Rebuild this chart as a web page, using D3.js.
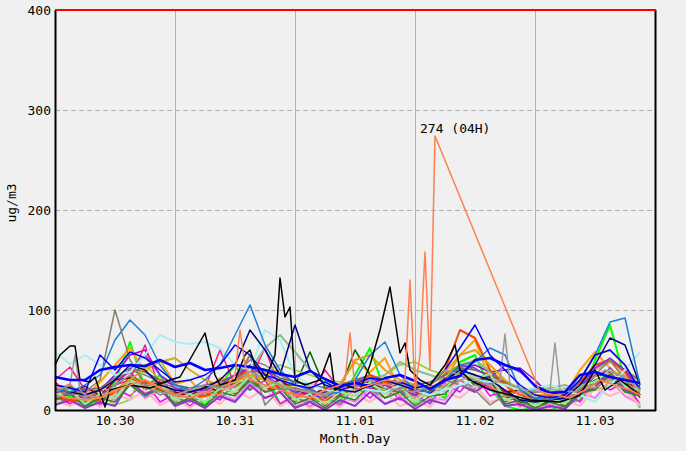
<!DOCTYPE html>
<html>
<head>
<script src="https://d3js.org/d3.v7.min.js"></script>
<style>
  body { margin: 0; background: #f0f0f0; }
  text { font-family: "DejaVu Sans Mono", monospace; font-size: 13px; fill: #000; }
</style>
</head>
<body>
<script>
// hours since 10.30 00:00, one sample every 3 hours
var hours = [0,3,6,9,12,15,18,21,24,27,30,33,36,39,42,45,48,51,54,57,60,63,66,69,72,75,78,81,84,87,90,93,96,99,102,105,108,111,114,117];
var dayLabels = ["10.30","10.31","11.01","11.02","11.03"];
var yTicks = [0,100,200,300,400];

// background stations
var red = [28,15,24,12,30,38,22,25,10,16,18,28,24,42,20,25,12,18,10,24,30,20,32,14,22,12,36,45,30,28,12,14,4,10,6,24,38,30,40,12];
var lime = [5,14,3,10,28,68,22,35,8,18,5,24,45,20,38,6,12,2,18,8,35,62,18,28,6,20,12,48,55,22,4,0,2,0,6,10,50,85,30,2];
var orange = [8,22,12,28,45,62,38,50,26,30,14,32,28,55,36,40,10,20,6,26,48,38,52,20,24,12,38,55,70,30,26,4,10,2,16,40,58,42,30,4];
var purple = [20,18,15,20,35,55,60,35,25,20,15,22,30,45,40,28,20,15,18,22,30,28,25,20,18,20,28,40,45,38,40,42,30,15,12,20,40,50,38,22];
var magenta = [15,6,18,5,22,14,28,8,16,4,18,10,28,20,30,6,15,3,12,4,24,12,26,10,16,6,26,18,35,14,20,4,12,2,18,8,30,20,28,6];
var violet = [10,18,6,16,10,26,12,20,6,12,2,16,10,28,12,18,3,10,2,14,8,22,6,14,2,12,10,30,20,26,4,10,0,6,2,18,12,30,14,6];
var gray = [22,20,18,20,30,40,35,28,22,20,22,25,35,50,45,35,28,25,22,25,30,32,28,25,22,25,35,45,40,35,25,15,12,14,15,25,42,50,40,28];
var dkgreen = [12,10,8,10,20,30,25,18,15,12,15,20,28,35,30,25,25,58,22,20,60,35,25,20,15,20,30,40,35,25,15,8,6,8,10,20,30,35,28,15];
var sienna = [18,24,10,20,14,34,20,26,10,18,8,24,16,32,18,26,8,18,4,20,14,28,12,24,8,22,18,38,24,30,8,14,2,12,4,22,20,36,18,22];
var deeppink = [30,43,20,15,25,30,65,20,15,18,22,60,25,30,62,20,15,18,40,20,25,22,20,18,15,18,25,35,30,22,15,10,12,15,18,22,35,40,28,18];
var yellowgreen = [25,22,20,15,5,10,45,30,25,22,20,25,30,35,38,45,40,35,30,28,25,30,35,45,48,40,35,45,50,40,28,20,18,20,22,15,20,25,22,18];
var seagreen = [18,15,12,15,20,25,30,22,18,15,18,20,25,40,62,75,58,40,30,25,28,30,35,48,40,35,30,40,50,38,28,22,20,22,25,20,25,30,28,25];
var cadet = [15,8,14,6,20,25,16,22,12,8,16,12,24,28,18,22,12,8,14,6,22,20,12,18,10,8,24,30,22,26,10,14,6,12,8,14,30,32,20,18];
var olive = [20,24,12,22,24,35,26,30,16,22,16,26,24,32,22,28,16,22,12,22,20,25,18,24,14,24,24,35,28,32,16,18,8,14,10,26,26,35,24,24];
var darkred = [22,16,24,14,30,32,22,28,18,14,24,18,30,35,24,30,20,14,22,16,28,28,20,26,18,16,32,38,28,34,18,20,10,14,10,18,34,38,26,24];
var lightpink = [10,4,12,3,16,10,20,5,12,2,14,6,20,12,22,4,12,2,10,3,16,8,18,4,10,3,18,12,24,8,12,2,6,1,10,4,22,14,20,4];
var orchid = [5,10,2,8,4,28,16,22,4,10,2,14,8,25,12,18,2,8,0,10,4,18,6,12,1,10,6,25,18,28,4,6,0,4,1,16,22,42,20,14];
var dimgray = [25,22,20,22,32,42,38,30,25,22,25,28,35,45,40,32,28,25,22,25,30,35,30,28,25,28,35,42,40,35,28,20,18,18,20,28,40,48,40,30];
var tan = [15,12,10,12,20,28,25,18,15,12,14,18,25,38,30,20,15,12,10,12,20,25,20,15,12,15,25,35,32,25,15,10,8,10,12,20,40,48,35,18];
var orangered = [12,10,8,10,18,30,28,20,15,12,14,18,30,42,35,20,15,12,10,14,25,35,28,20,15,25,40,80,72,40,25,15,10,12,15,28,45,50,38,15];
var blueviolet = [18,15,12,15,25,40,55,35,22,18,20,25,35,42,35,25,18,15,12,15,28,32,25,20,15,18,30,45,42,32,45,38,25,12,10,20,42,52,40,22];
var forest = [10,16,4,12,8,25,14,22,6,12,4,18,14,30,18,22,6,12,2,14,10,25,12,18,4,14,16,35,26,30,6,10,2,8,3,18,20,35,18,14];
var lightcoral = [20,26,12,22,18,30,24,30,14,22,16,28,22,32,24,28,14,24,10,22,18,25,26,22,12,24,20,30,34,24,14,18,8,16,10,24,22,32,34,18];
var lightgreen = [15,20,6,16,12,30,22,26,10,16,8,22,18,35,22,28,10,16,6,18,14,28,16,24,8,22,20,40,32,36,10,14,4,12,6,24,28,40,24,20];

// stations that stand out
var goldenrod = [20,18,15,12,20,30,42,48,52,40,30,25,28,35,30,25,22,18,15,25,50,55,40,30,25,22,30,55,60,45,30,20,15,15,18,30,55,60,45,20];
var taupe = [20,15,18,30,100,50,25,15,20,18,22,25,30,55,5,20,22,18,15,20,25,20,18,22,25,20,30,25,20,5,15,10,12,15,10,20,35,50,30,15];
var cyan = [58,46,55,45,35,38,55,75,68,66,68,62,45,40,80,70,35,25,20,18,22,20,18,25,20,15,20,25,30,28,25,20,22,25,20,15,8,25,40,58];
var navy = [20,18,15,20,30,45,40,25,20,18,22,30,45,80,60,35,85,40,25,20,18,25,30,25,20,18,30,40,35,30,20,10,8,10,12,25,45,72,65,25];
var steel = [20,18,25,35,70,90,75,45,25,20,30,45,75,105,65,40,25,20,15,18,30,55,68,35,20,18,30,45,48,62,55,20,12,10,15,30,55,88,92,25];
var blue2 = [25,22,18,55,40,58,52,40,28,30,35,45,65,55,35,30,25,22,28,20,25,32,30,28,22,25,40,62,85,55,40,25,15,12,15,30,55,60,45,20];
var blueThick = [33,30,30,40,43,45,44,50,43,47,40,42,45,43,40,36,33,39,31,24,27,24,32,35,29,21,30,34,50,52,45,40,24,17,18,35,38,33,30,27];

// stations with their own sample hours
var grayHours = [0,3,4,5,6,9,12,15,18,21,24,27,30,33,36,39,42,45,48,51,54,57,60,63,66,69,72,75,78,81,84,87,89,90,91,94,97,99,100,101,104,107,110,113,116,117];
var grayVals = [18,25,55,20,15,12,25,35,22,18,15,20,25,22,30,38,32,25,20,18,15,22,25,30,22,20,18,25,40,35,30,25,30,76,25,20,18,20,67,20,18,30,40,35,25,20];
var blackHours = [0,1,3,4,5,7,8,10,11,15,19,23,25,30,32,33,36,38,39,40,42,44,45,46,47,48,50,53,55,56,58,61,63,65,67,69,70,71,73,75,78,80,81,83,87,91,95,101,105,108,110,113,117];
var blackVals = [45,55,64,64,30,28,33,3,20,25,22,30,33,77,35,25,30,55,60,45,30,55,132,93,103,30,25,30,57,20,25,20,45,80,123,57,67,40,30,25,45,65,40,30,20,15,10,8,15,40,20,30,15];
var coralHours = [0,3,6,9,12,15,18,21,24,27,30,33,36,37,38,39,42,45,48,51,54,57,58,59,60,63,66,69,70,71,72,73,74,75,76,97,100,103,106,109,112,115,117];
var coralVals = [15,12,10,12,20,25,30,22,15,12,18,15,35,80,45,30,25,20,15,12,20,25,30,77,20,25,30,28,30,130,20,55,158,40,274,18,15,12,20,30,25,20,15];

var w = 686, h = 451;
var padL = 55, padR = 655, padT = 10, padB = 410;

var xScale = d3.scaleLinear().domain([0, 120]).range([padL, padR]);
var yScale = d3.scaleLinear().domain([0, 400]).range([padB, padT]);

var svg = d3.select("body").append("svg").attr("width", w).attr("height", h);
svg.append("rect").attr("width", w).attr("height", h).attr("fill", "#f0f0f0");

// grid
svg.selectAll(".hgrid").data([100,200,300]).enter().append("line")
    .attr("x1", padL).attr("x2", padR)
    .attr("y1", function(d){return yScale(d) + 0.5;}).attr("y2", function(d){return yScale(d) + 0.5;})
    .attr("stroke", "#b0b0b0").attr("stroke-dasharray", "5,3");
svg.selectAll(".vgrid").data([24,48,72,96]).enter().append("line")
    .attr("x1", function(d){return xScale(d) + 0.5;}).attr("x2", function(d){return xScale(d) + 0.5;})
    .attr("y1", padT).attr("y2", padB)
    .attr("stroke", "#b0b0b0");

var styles = [
  [red, "#ff0000", 1.5], [lime, "#00ff00", 2], [orange, "#ffa500", 2], [purple, "#9400d3", 1.5],
  [magenta, "#ff00ff", 1.5], [violet, "#ee82ee", 2], [gray, "#808080", 1.5], [dkgreen, "#006400", 1.5],
  [sienna, "#a0522d", 1.5], [deeppink, "#ff1493", 1.5], [yellowgreen, "#9acd32", 1.5], [seagreen, "#8fbc8f", 2],
  [cadet, "#5f9ea0", 1.5], [olive, "#808000", 1.5], [darkred, "#8b0000", 1.5], [lightpink, "#ffb6c1", 2],
  [orchid, "#9932cc", 2], [dimgray, "#696969", 1.5], [tan, "#d2b48c", 1.5], [orangered, "#ff4500", 2],
  [blueviolet, "#8a2be2", 1.5], [forest, "#228b22", 1.5], [lightcoral, "#f08080", 1.5], [lightgreen, "#90ee90", 2],
  [goldenrod, "#daa520", 2], [taupe, "#8b7d6b", 1.5], [cyan, "#a8eef2", 2], [navy, "#000080", 1.5],
  [steel, "#1e7fd8", 1.5], [blue2, "#0000ff", 1.5]
];

var series = styles.map(function(s){
  return {color: s[1], width: s[2], pts: hours.map(function(t, i){ return [t, s[0][i]]; })};
});
series.push({color: "#999999", width: 1.5, pts: grayHours.map(function(t, i){ return [t, grayVals[i]]; })});
series.push({color: "#000000", width: 1.5, pts: blackHours.map(function(t, i){ return [t, blackVals[i]]; })});
series.push({color: "#0000ff", width: 2.5, pts: hours.map(function(t, i){ return [t, blueThick[i]]; })});
series.push({color: "#ff7f50", width: 1.5, pts: coralHours.map(function(t, i){ return [t, coralVals[i]]; })});

var line = d3.line()
    .x(function(d){ return xScale(d[0]); })
    .y(function(d){ return yScale(d[1]); });

svg.append("g").selectAll("path").data(series).enter().append("path")
    .attr("d", function(d){ return line(d.pts); })
    .attr("fill", "none")
    .attr("stroke", function(d){ return d.color; })
    .attr("stroke-width", function(d){ return d.width; })
    .attr("stroke-linejoin", "round");

// peak label
var peakIdx = d3.maxIndex(coralVals);
var peakH = coralHours[peakIdx];
svg.append("text")
    .attr("x", xScale(peakH) - 15)
    .attr("y", yScale(coralVals[peakIdx]) - 3)
    .text(coralVals[peakIdx] + " (" + d3.format("02d")(peakH % 24) + "H)");

// frame
svg.append("line").attr("x1", padL + 0.5).attr("x2", padL + 0.5).attr("y1", padT).attr("y2", padB + 1).attr("stroke", "#000").attr("stroke-width", 2);
svg.append("line").attr("x1", padR + 0.5).attr("x2", padR + 0.5).attr("y1", padT).attr("y2", padB + 1).attr("stroke", "#000").attr("stroke-width", 2);
svg.append("line").attr("x1", padL).attr("x2", padR + 1).attr("y1", padB + 0.5).attr("y2", padB + 0.5).attr("stroke", "#000").attr("stroke-width", 2);
svg.append("line").attr("x1", padL).attr("x2", padR + 1).attr("y1", padT).attr("y2", padT).attr("stroke", "#ff0000").attr("stroke-width", 2);

// axis labels
svg.selectAll(".ylab").data(yTicks).enter().append("text")
    .attr("x", padL - 4).attr("y", function(d){ return yScale(d) + 5; })
    .attr("text-anchor", "end").text(function(d){ return d; });
svg.selectAll(".xlab").data(dayLabels).enter().append("text")
    .attr("x", function(d, i){ return xScale(12 + 24 * i); }).attr("y", 425)
    .attr("text-anchor", "middle").text(function(d){ return d; });
svg.append("text").attr("x", xScale(60)).attr("y", 443).attr("text-anchor", "middle").text("Month.Day");
svg.append("text").attr("transform", "translate(16,203) rotate(-90)").attr("text-anchor", "middle").text("ug/m3");
</script>
</body>
</html>
